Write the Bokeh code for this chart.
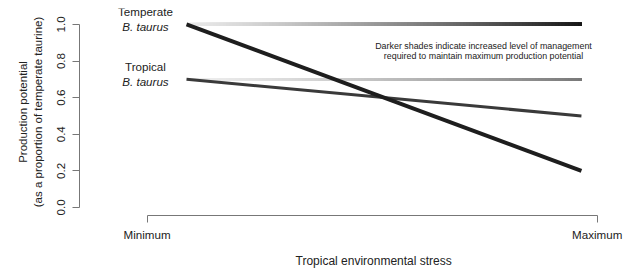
import numpy as np
from bokeh.plotting import figure
from bokeh.models import Range1d, Label, FixedTicker, LinearAxis, Title
from bokeh.embed import file_html
from bokeh.resources import INLINE

# ---- data ----
stress = [0.0, 1.0]                 # Minimum -> Maximum stress (relative)
temperate = [1.0, 0.2]              # Temperate B. taurus production potential
tropical = [0.7, 0.5]               # Tropical B. taurus production potential
temperate_managed = 1.0             # potential maintained by management
tropical_managed = 0.7
y_ticks = [0.0, 0.2, 0.4, 0.6, 0.8, 1.0]
y_tick_labels = ["0.0", "0.2", "0.4", "0.6", "0.8", "1.0"]
x_tick_pos = [-0.1, 1.04]
x_tick_labels = ["Minimum", "Maximum"]

FONT = "Liberation Sans"
TXT = "#222222"
AX = "#777777"
FS = "11.6px"

p = figure(width=630, height=276, output_backend="svg", toolbar_location=None,
           x_range=Range1d(-0.271, 1.104), y_range=Range1d(-0.044, 1.087),
           min_border_left=79, min_border_right=8, min_border_top=8, min_border_bottom=61,
           x_axis_location=None, y_axis_location=None)
p.grid.visible = False
p.outline_line_color = None
p.background_fill_color = "white"
p.border_fill_color = "white"

# axes
yax = LinearAxis(ticker=FixedTicker(ticks=y_ticks), bounds=(0, 1),
                 major_label_overrides={t: l for t, l in zip(y_ticks, y_tick_labels)})
yax.axis_label = "Production potential\n(as a proportion of temperate taurine)"
xax = LinearAxis(ticker=FixedTicker(ticks=x_tick_pos), bounds=(x_tick_pos[0], x_tick_pos[1]),
                 major_label_overrides={t: l for t, l in zip(x_tick_pos, x_tick_labels)})
for ax in (yax, xax):
    ax.axis_line_color = AX
    ax.major_tick_line_color = AX
    ax.minor_tick_line_color = None
    ax.major_tick_out = 7
    ax.major_tick_in = 0
    ax.major_label_text_font = FONT
    ax.major_label_text_font_size = FS
    ax.major_label_text_color = TXT
    ax.axis_label_text_font = FONT
    ax.axis_label_text_font_size = "11.5px"
    ax.axis_label_text_font_style = "normal"
    ax.axis_label_text_color = TXT
yax.major_label_orientation = "vertical"
yax.major_label_standoff = 7
yax.axis_label_standoff = 11
xax.major_label_standoff = 5
p.add_layout(yax, "left")
p.add_layout(xax, "below")

# x axis title, offset so it is centred under the axis span
xt = Title(text="Tropical environmental stress", align="left", offset=216,
           text_font=FONT, text_font_size="12px", text_font_style="normal",
           text_color=TXT, standoff=17)
p.add_layout(xt, "below")

# gradient "managed" lines (light -> dark), stacked so there are no seams
N = 120
xs = np.linspace(stress[0], stress[1], N + 1)[:-1]
def grad(y, c0, c1, w):
    cols = []
    for tt in xs:
        v = int(round(c0 + (c1 - c0) * tt ** 1.3))
        cols.append("#%02x%02x%02x" % (v, v, v))
    p.segment(x0=xs, y0=[y] * N, x1=[stress[1]] * N, y1=[y] * N,
              line_color=cols, line_width=w, line_cap="butt")
grad(temperate_managed, 232, 20, 3.4)
grad(tropical_managed, 238, 120, 2.6)

# main lines
p.line(stress, tropical, line_color="#3a3a3a", line_width=3.0)
p.line(stress, temperate, line_color="#1e1e1e", line_width=4.0)

# labels
def lab(x, y, text, size=FS, style="normal"):
    p.add_layout(Label(x=x, y=y, text=text, text_font=FONT, text_font_size=size,
                       text_font_style=style, text_color=TXT,
                       text_align="center", text_baseline="middle"))
lab(-0.104, 1.068, "Temperate")
lab(-0.104, 0.989, "B. taurus", style="italic")
lab(-0.104, 0.77, "Tropical")
lab(-0.104, 0.69, "B. taurus", style="italic")
lab(0.752, 0.88, "Darker shades indicate increased level of management", size="8.9px")
lab(0.752, 0.825, "required to maintain maximum production potential", size="8.9px")

open("out.html", "w").write(file_html(p, INLINE))
